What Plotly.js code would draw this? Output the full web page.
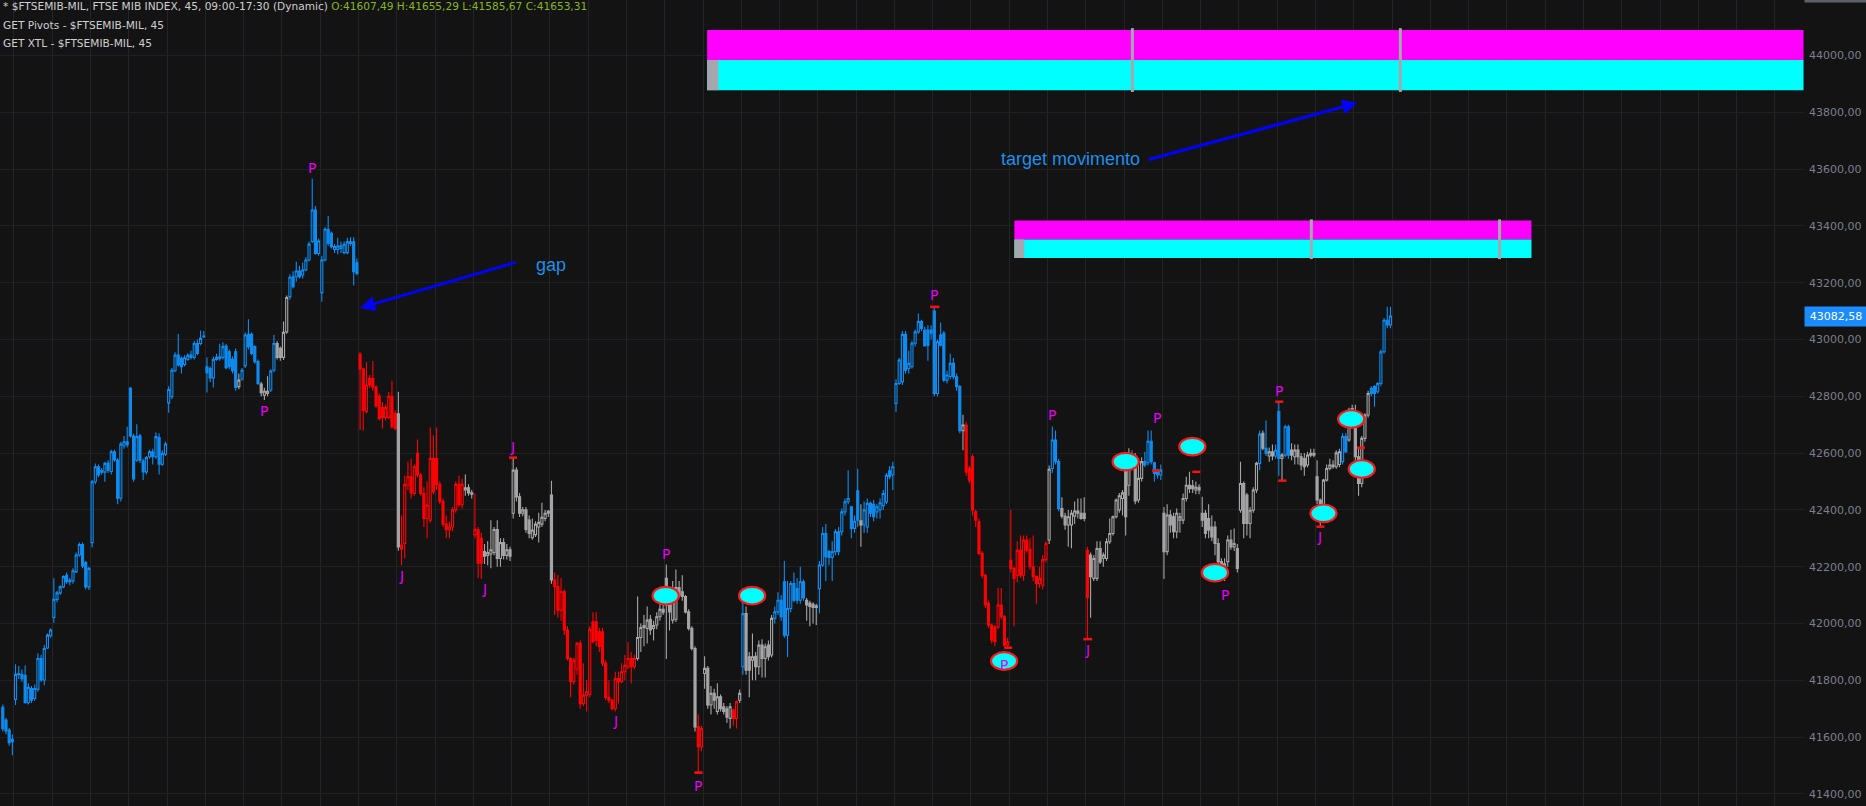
<!DOCTYPE html>
<html><head><meta charset="utf-8">
<script src="https://cdn.plot.ly/plotly-3.0.1.min.js"></script>
<style>html,body{margin:0;padding:0;background:#131313;overflow:hidden}#chart{width:1866px;height:806px}</style>
</head><body><div id="chart"></div>
<script>
// 45-minute bars, 12 per session (index 0 = first visible bar)
const openP = [
41705,41660,41625,41584,
41733,41824,41820,41818,41721,41771,41736,41768,41877,41801,41914,41957,
42021,42085,42108,42129,42170,42147,42150,42182,42241,42278,42215,42129,
42285,42499,42552,42533,42533,42564,42535,42605,42576,42441,42626,42640,
42829,42660,42575,42661,42572,42534,42587,42605,42587,42655,42561,42596,
42777,42799,42890,42945,42934,42912,42930,42937,42937,42986,42986,43010,
42904,42898,42865,42930,42932,42937,42977,42957,42930,42957,42834,42861,
42908,43018,43018,42975,42922,42843,42804,42810,42822,42892,42986,42969,
42937,43027,43151,43221,43221,43241,43227,43245,43280,43345,43456,43303,
43165,43280,43388,43374,43317,43317,43321,43306,43306,43344,43344,43270,
42949,42896,42746,42863,42863,42832,42800,42760,42726,42726,42800,42740,
42738,42276,42282,42485,42517,42458,42599,42523,42458,42370,42364,42581,
42581,42490,42430,42350,42330,42340,42400,42490,42418,42470,42478,42460,
42313,42330,42300,42253,42240,42245,42250,42331,42229,42285,42240,42260,
42388,42540,42446,42388,42400,42364,42302,42313,42340,42350,42370,42388,
42452,42153,42130,42047,42112,41977,41877,41795,41840,41930,41718,41748,
41750,42006,42006,41971,41971,41860,41740,41730,41700,41806,41795,41830,
41848,41877,41848,41877,41951,41986,41983,42015,41983,41995,42024,42050,
42159,42065,42012,42015,42127,42112,42095,42041,41983,41912,41636,41566,
41824,41842,41713,41754,41690,41742,41707,41700,41666,41695,41666,41730,
41848,42035,41883,41871,41885,41848,41924,41877,41924,41889,42018,42041,
42082,42147,41959,42053,42141,42123,42082,42147,42082,42072,42068,42057,
42123,42206,42317,42253,42233,42253,42323,42323,42393,42429,42411,42335,
42467,42362,42347,42340,42423,42420,42393,42400,42415,42428,42538,42523,
42775,42845,42851,43018,42898,42904,42987,43027,43063,43033,43033,43033,
43100,42810,43016,43022,42857,42870,42916,42869,42834,42679,42699,42546,
42587,42393,42358,42247,42170,42071,41994,41988,41988,42065,42024,41924,
42223,42194,42170,42258,42170,42294,42261,42200,42165,42141,42135,42225,
42294,42546,42646,42570,42405,42378,42347,42347,42378,42396,42388,42388,
42258,42241,42159,42159,42264,42230,42229,42288,42317,42376,42400,42440,
42570,42487,42558,42590,42435,42511,42570,42566,42642,42566,42540,42523,
42388,42253,42382,42376,42323,42364,42364,42440,42487,42485,42470,42480,
42388,42388,42370,42340,42340,42282,42218,42194,42218,42294,42270,42264,
42399,42493,42452,42352,42399,42470,42564,42670,42617,42590,42605,42590,
42746,42581,42593,42693,42611,42587,42611,42587,42581,42558,42593,42599,
42517,42435,42388,42505,42546,42552,42552,42560,42570,42658,42646,42757,
42740,42587,42493,42652,42734,42828,42834,42816,42845,42957,43068,43051];
const highP = [
41715,41668,41632,41609,
41857,41850,41838,41853,41790,41780,41785,41895,41890,41924,41965,41983,
42159,42115,42135,42170,42180,42160,42195,42250,42285,42285,42220,42200,
42505,42563,42560,42548,42570,42575,42612,42612,42582,42640,42660,42693,
42832,42668,42702,42668,42580,42590,42612,42615,42673,42670,42610,42640,
42835,42900,42955,43019,42940,42945,42952,42960,42995,43000,43032,43030,
42937,42905,42940,42950,42985,42990,42985,42965,42940,42968,42880,42900,
43025,43071,43025,42980,42930,42850,42830,42871,42895,43016,42995,42975,
43063,43155,43230,43240,43274,43260,43270,43290,43345,43567,43470,43355,
43295,43395,43435,43380,43335,43358,43345,43345,43358,43360,43360,43285,
42955,42900,42920,42875,42924,42840,42810,42780,42770,42815,42855,42750,
42816,42380,42520,42570,42580,42560,42648,42530,42480,42500,42690,42662,
42690,42500,42440,42380,42360,42410,42500,42520,42510,42525,42490,42470,
42458,42340,42320,42280,42290,42364,42340,42364,42300,42300,42280,42270,
42584,42550,42460,42410,42410,42380,42370,42360,42390,42425,42400,42400,
42503,42180,42170,42160,42120,41990,41880,41880,41935,41940,41860,41800,
41990,42040,42041,41985,41985,41870,41800,41735,41830,41830,41860,41890,
41935,41900,41890,42095,42000,42030,42060,42030,42010,42040,42070,42080,
42208,42080,42150,42190,42150,42170,42100,42050,41990,41920,41680,41640,
41885,41850,41780,41770,41790,41750,41720,41710,41720,41700,41730,41768,
42125,42060,41900,41965,41900,41940,41945,41930,41940,42030,42060,42110,
42100,42220,42150,42150,42180,42160,42200,42155,42090,42080,42075,42070,
42220,42340,42350,42260,42290,42333,42340,42405,42440,42540,42415,42380,
42545,42420,42430,42440,42430,42435,42420,42440,42470,42530,42555,42570,
42860,42935,43030,43030,42960,42995,43035,43092,43070,43045,43050,43050,
43115,43000,43060,43030,42890,42950,42935,42880,42840,42735,42710,42555,
42595,42400,42370,42255,42175,42080,42000,41995,42125,42125,42030,41950,
42400,42200,42290,42310,42310,42310,42300,42310,42170,42200,42240,42290,
42556,42694,42680,42580,42445,42390,42400,42400,42430,42440,42440,42445,
42270,42250,42240,42290,42290,42250,42300,42370,42380,42440,42460,42470,
42580,42617,42610,42600,42560,42585,42605,42680,42680,42570,42545,42560,
42410,42420,42400,42390,42405,42390,42458,42517,42534,42505,42500,42490,
42446,42400,42420,42380,42360,42300,42230,42230,42310,42330,42335,42280,
42570,42500,42460,42410,42480,42570,42680,42680,42715,42620,42630,42630,
42781,42600,42700,42700,42635,42630,42630,42600,42600,42605,42615,42615,
42575,42440,42510,42560,42580,42575,42610,42615,42670,42670,42760,42770,
42770,42619,42660,42740,42820,42835,42840,42850,42965,43075,43115,43115];
const lowP = [
41620,41610,41570,41536,
41713,41805,41795,41718,41715,41720,41728,41760,41795,41783,41910,41950,
42003,42075,42100,42125,42140,42135,42140,42178,42235,42195,42120,42118,
42268,42490,42515,42525,42499,42530,42525,42570,42420,42430,42615,42620,
42655,42499,42570,42565,42505,42525,42580,42560,42580,42525,42555,42590,
42742,42790,42885,42905,42880,42905,42925,42930,42930,42945,42980,43005,
42813,42850,42831,42925,42925,42930,42895,42895,42880,42820,42825,42855,
42900,42965,42945,42915,42840,42800,42787,42800,42815,42885,42930,42925,
42928,43020,43140,43180,43204,43215,43215,43240,43275,43340,43298,43295,
43133,43275,43330,43320,43305,43300,43305,43300,43300,43330,43190,43225,
42681,42680,42740,42830,42820,42760,42715,42687,42715,42720,42685,42680,
42256,42205,42230,42470,42440,42450,42515,42450,42340,42300,42355,42455,
42470,42420,42340,42300,42300,42325,42390,42410,42405,42450,42450,42440,
42300,42160,42158,42210,42205,42195,42240,42200,42200,42225,42225,42220,
42370,42430,42375,42378,42320,42300,42295,42305,42285,42340,42360,42375,
42140,42030,42020,42010,41960,41870,41740,41785,41820,41700,41710,41690,
41740,41930,41920,41900,41850,41730,41720,41695,41690,41718,41790,41800,
41840,41790,41840,41870,41900,41920,41930,41960,41940,41980,42010,42030,
41875,41975,42000,42005,42090,42080,42035,41975,41905,41620,41475,41550,
41770,41700,41680,41700,41680,41690,41680,41650,41630,41640,41630,41720,
41820,41820,41740,41800,41800,41820,41810,41810,41870,41880,42000,42030,
42010,41950,41882,42040,42075,42070,42070,42080,42010,41990,42000,41995,
42035,42200,42150,42205,42150,42240,42240,42310,42380,42420,42300,42320,
42340,42270,42320,42320,42375,42360,42370,42370,42400,42420,42508,42470,
42745,42840,42840,42880,42880,42898,42975,43020,43030,42975,42925,43000,
42800,42800,42975,42850,42845,42860,42860,42820,42670,42610,42520,42495,
42380,42340,42240,42160,42055,41985,41930,41920,41980,42015,41915,41914,
42180,41990,42145,42160,42150,42250,42190,42150,42070,42125,42120,42216,
42280,42530,42560,42395,42370,42330,42270,42265,42350,42370,42365,42360,
41945,42020,42150,42150,42210,42200,42220,42280,42310,42370,42390,42380,
42310,42450,42540,42420,42425,42500,42550,42556,42560,42500,42510,42505,
42157,42240,42320,42300,42300,42320,42350,42430,42460,42460,42455,42455,
42340,42300,42300,42290,42240,42150,42160,42150,42200,42260,42255,42180,
42390,42300,42310,42300,42390,42460,42540,42610,42590,42570,42575,42580,
42520,42503,42585,42580,42575,42560,42560,42540,42520,42550,42585,42585,
42420,42341,42370,42500,42540,42545,42545,42550,42560,42600,42640,42730,
42570,42450,42480,42640,42725,42800,42763,42810,42835,42950,43040,43040];
const closeP = [
41630,41622,41580,41592,
41821,41820,41806,41721,41775,41730,41771,41877,41801,41912,41959,41977,
42085,42108,42129,42165,42147,42152,42186,42241,42278,42203,42129,42194,
42499,42552,42523,42539,42564,42540,42605,42576,42441,42632,42640,42630,
42660,42509,42658,42575,42534,42584,42605,42587,42658,42561,42599,42632,
42824,42892,42945,42910,42904,42936,42944,42945,42986,42951,43004,43012,
42883,42865,42930,42937,42939,42975,42901,42904,42890,42831,42857,42892,
43016,42975,42951,42922,42845,42813,42818,42818,42889,42986,42937,42937,
43025,43148,43219,43186,43241,43221,43245,43280,43336,43456,43303,43347,
43280,43388,43339,43327,43327,43329,43330,43335,43344,43338,43239,43233,
42896,42750,42840,42840,42832,42766,42722,42726,42760,42800,42693,42687,
42270,42262,42490,42517,42460,42552,42523,42458,42370,42417,42581,42464,
42490,42430,42350,42330,42340,42400,42490,42418,42490,42478,42460,42455,
42330,42212,42212,42237,42250,42260,42331,42229,42285,42240,42260,42237,
42540,42446,42388,42400,42331,42317,42329,42350,42356,42374,42388,42395,
42153,42130,42047,42112,41977,41877,41795,41871,41930,41718,41748,41760,
41980,41936,41940,41918,41860,41740,41730,41700,41806,41795,41830,41853,
41877,41848,41877,41951,41986,41993,42012,41977,41993,42024,42050,42040,
42065,42041,42100,42127,42100,42095,42041,41983,41912,41636,41566,41630,
41842,41713,41754,41730,41742,41700,41690,41670,41707,41666,41724,41754,
42035,41836,41836,41883,41848,41924,41877,41918,41883,42018,42041,42082,
42024,41959,42053,42141,42082,42082,42147,42090,42065,42060,42057,42062,
42206,42317,42235,42233,42253,42323,42253,42393,42429,42440,42335,42360,
42364,42347,42400,42423,42388,42376,42411,42425,42458,42522,42517,42552,
42845,42928,43018,42892,42916,42987,43027,43063,43039,42977,42980,43022,
42810,42992,42980,42857,42875,42916,42869,42834,42679,42699,42534,42505,
42400,42364,42247,42170,42065,41994,41941,41936,42065,42024,41924,41936,
42194,42159,42258,42170,42294,42258,42200,42165,42141,42159,42225,42282,
42543,42646,42570,42405,42378,42347,42376,42388,42396,42388,42370,42370,
42092,42165,42229,42264,42217,42241,42288,42317,42376,42435,42450,42460,
42376,42558,42590,42432,42511,42570,42558,42642,42570,42528,42523,42540,
42253,42382,42347,42323,42388,42376,42440,42487,42475,42475,42480,42470,
42364,42317,42329,42305,42282,42218,42194,42210,42294,42270,42282,42194,
42493,42352,42352,42399,42470,42564,42667,42617,42599,42605,42590,42610,
42581,42593,42693,42593,42593,42611,42587,42558,42552,42593,42599,42593,
42435,42388,42505,42546,42558,42558,42601,42605,42658,42605,42752,42740,
42587,42493,42652,42734,42810,42810,42810,42845,42957,43068,43051,43082.58];
// trend state per bar: b = up (blue), r = down (red), g = neutral (grey)
const trendState = (
 "bbbb" + "bbbbbbbbbbbb" + "bbbbbbbbbbbb" + "bbbbbbbbbbbb" + "bbbbbbbbbbbb" + "bbbbbbbbbbbb" +
 "bbbbbbbbbbgb" + "bbbbbgggbbgg" + "ggbbbbbbbbbb" + "bbbbbbbbbbbb" + "rrrrrrrrrrrr" +
 "grrrrrrrrrrr" + "rrrrrrrrrggg" + "rrrggggggggg" + "gggggggggggg" + "grrrrrrrrrrr" +
 "rrrrrrrrrrrr" + "rrrggggggggg" + "ggggggggggrr" + "gggggggggrrg" + "bgggggggggbb" +
 "bbbbbbbbgggg" + "bbbbbbbbbbbb" + "bgbbbbbbbbbb" + "bbbbbbbbbbbb" + "bbbbbbbbbgrr" +
 "rrrrrrrrrrrr" + "rrrrrrrrrrrr" + "gbbbgggggggg" + "rggggggggggg" + "ggbgggbbbbbb" +
 "gggggggggggg" + "gggggggggggg" + "ggggggbgbggb" + "bgbbgggggggg" + "ggggggggbbgg" +
 "gggggbbbbbbb").split("");

// price axis
const yTickVals = [41400,41600,41800,42000,42200,42400,42600,42800,43000,43200,43400,43600,43800,44000];
const yTickText = ["41400,00","41600,00","41800,00","42000,00","42200,00","42400,00","42600,00","42800,00","43000,00","43200,00","43400,00","43600,00","43800,00","44000,00"];
const lastPrice = 43082.58, lastPriceText = "43082,58";
const topPriceText = "44222,25";

// GET Pivots labels (bar position, price)
const pivotText = ["P","P","J","J","J","P","J","P","P","P","P","J","P","P","P","J"];
const pivotBar  = [97.0,81.9,124.9,151.0,159.9,208.0,192.0,217.8,291.8,314.0,328.9,339.9,361.8,383.0,400.0,412.8];
const pivotPrice= [43604,42748,42167,42120,42623,42245,41658,41428,43157,41854,42734,41907,42722,42100,42819,42306];
// red pivot ticks
const tickBar0 = [158.7,216.8,290.7,313.9,338.7,360.3,372.9,398.9,399.8,411.8,424.5];
const tickBar1 = [161.2,219.4,293.6,316.4,341.5,362.8,375.4,401.4,402.4,414.3,427.0];
const tickPrice= [42584,41475,43115,41915,41945,42538,42534,42781,42503,42341,42619];
// GET XTL ellipses (bar, price)
const ellBar   = [207.8,234.9,313.9,352.0,372.9,380.0,414.0,422.7,426.0];
const ellPrice = [42098,42098,41868,42570,42623,42179,42388,42720,42544];
// target boxes
const boxStart = [220.8,317.1];
const boxEnd   = [564.5,479.2];
const boxTop   = [44090,43419];
const boxMid   = [43984,43352];
const boxBottom= [43878,43287];
const boxMark  = [224.3,320.2];
const boxDivA  = [354.1,410.2];
const boxDivB  = [438.1,469.2];

const COLORS = {b:'#0f8cf0', r:'#ff0000', g:'#a6a6a8'};
const traces = Object.keys(COLORS).map(k => {
  const x=[],o=[],h=[],l=[],c=[];
  for (let i=0;i<closeP.length;i++) if (trendState[i]===k){x.push(i);o.push(openP[i]);h.push(highP[i]);l.push(lowP[i]);c.push(closeP[i]);}
  return {type:'candlestick', x:x, open:o, high:h, low:l, close:c, whiskerwidth:0,
    increasing:{line:{color:COLORS[k], width:1.1}, fillcolor:'rgba(0,0,0,0)'},
    decreasing:{line:{color:COLORS[k], width:1.1}, fillcolor:COLORS[k]},
    hoverinfo:'skip', showlegend:false};
});

const shapes = [];
for (let b=0;b<boxStart.length;b++){
  shapes.push({type:'rect',xref:'x',yref:'y',x0:boxStart[b],x1:boxEnd[b],y0:boxMid[b],y1:boxTop[b],fillcolor:'#ff00ff',line:{width:0}});
  shapes.push({type:'rect',xref:'x',yref:'y',x0:boxStart[b],x1:boxEnd[b],y0:boxBottom[b],y1:boxMid[b],fillcolor:'#00ffff',line:{width:0}});
  shapes.push({type:'rect',xref:'x',yref:'y',x0:boxStart[b],x1:boxMark[b],y0:boxBottom[b],y1:boxMid[b],fillcolor:'#a6a6ae',line:{width:0}});
  const ext = (boxTop[b]-boxBottom[b])*0.03;
  [boxDivA[b],boxDivB[b]].forEach(d=>{
    shapes.push({type:'rect',xref:'x',yref:'y',x0:d-0.47,x1:d+0.47,y0:boxBottom[b]-ext,y1:boxTop[b]+ext,fillcolor:'#a6a6ae',line:{width:0}});
  });
}
for (let i=0;i<tickPrice.length;i++){
  shapes.push({type:'line',xref:'x',yref:'y',x0:tickBar0[i],x1:tickBar1[i],y0:tickPrice[i],y1:tickPrice[i],line:{color:'#ff1010',width:2.5}});
}
for (let i=0;i<ellBar.length;i++){
  shapes.push({type:'circle',xref:'x',yref:'y',x0:ellBar[i]-4.1,x1:ellBar[i]+4.1,y0:ellPrice[i]-31,y1:ellPrice[i]+31,fillcolor:'#00ffff',line:{color:'#ff1a1a',width:2.2}});
}

const hdrFont = {family:'DejaVu Sans', size:10.6, color:'#cfcfcf'};
const annotations = [
  {xref:'paper',yref:'paper',x:0.0005,y:1-6/806,xanchor:'left',yanchor:'middle',showarrow:false,font:hdrFont,
   text:'* $FTSEMIB-MIL, FTSE MIB INDEX, 45, 09:00-17:30 (Dynamic) <span style="color:#86b61f">O:41607,49 H:41655,29 L:41585,67 C:41653,31</span>'},
  {xref:'paper',yref:'paper',x:0.0005,y:1-25/806,xanchor:'left',yanchor:'middle',showarrow:false,font:hdrFont,text:'GET Pivots - $FTSEMIB-MIL, 45'},
  {xref:'paper',yref:'paper',x:0.0005,y:1-43/806,xanchor:'left',yanchor:'middle',showarrow:false,font:hdrFont,text:'GET XTL - $FTSEMIB-MIL, 45'},
  {xref:'paper',yref:'y',x:1,y:lastPrice,xanchor:'left',yanchor:'middle',showarrow:false,text:lastPriceText,
   bgcolor:'#1a8cff',width:58,height:15,borderpad:2,font:{family:'DejaVu Sans',size:11,color:'#ffffff'}},
  {xref:'paper',yref:'paper',x:1,y:1+7.6/806,xanchor:'left',yanchor:'middle',showarrow:false,text:topPriceText,
   bgcolor:'#5b606a',width:58,height:15,borderpad:2,font:{family:'DejaVu Sans',size:11,color:'#ffffff'}},
  // gap arrow + label
  {xref:'x',yref:'y',x:112.0,y:43111,ax:157,ay:-46,text:'',showarrow:true,arrowcolor:'#0000ff',arrowwidth:3,arrowhead:2,arrowsize:1,standoff:0,startstandoff:0},
  {xref:'x',yref:'y',x:171.9,y:43262,text:'gap',showarrow:false,font:{family:'Liberation Sans',size:18,color:'#1e8fe6'}},
  // target arrow + label
  {xref:'x',yref:'y',x:424.6,y:43833,ax:-210,ay:57,text:'',showarrow:true,arrowcolor:'#0000ff',arrowwidth:3,arrowhead:2,arrowsize:1,standoff:0,startstandoff:0},
  {xref:'x',yref:'y',x:334.7,y:43636,text:'target movimento',showarrow:false,font:{family:'Liberation Sans',size:18,color:'#1e8fe6'}}
];
for (let i=0;i<pivotText.length;i++){
  annotations.push({xref:'x',yref:'y',x:pivotBar[i],y:pivotPrice[i],text:pivotText[i],showarrow:false,
    font:{family:'DejaVu Sans',size:14,color:'#e600f0'}});
}

const layout = {
  width:1866, height:806,
  margin:{l:0,r:62,t:0,b:0,pad:0},
  paper_bgcolor:'#131313', plot_bgcolor:'#131313',
  showlegend:false, hovermode:false, dragmode:false, boxgap:0.08,
  xaxis:{range:[-0.878,564.64], tickmode:'linear', tick0:3.5, dtick:12, showgrid:true, gridcolor:'#232328', gridwidth:1,
         showticklabels:false, ticks:'', zeroline:false, showline:false, rangeslider:{visible:false}, fixedrange:true},
  yaxis:{side:'right', range:[41357.5,44195.4], tickmode:'array', tickvals:yTickVals, ticktext:yTickText,
         showgrid:true, gridcolor:'#202024', gridwidth:1, ticks:'', zeroline:false, showline:false, automargin:false,
         ticklabelstandoff:4, tickfont:{family:'DejaVu Sans', size:11, color:'#7a7f8b'}, fixedrange:true},
  shapes:shapes, annotations:annotations
};
Plotly.newPlot('chart', traces, layout, {staticPlot:true, displayModeBar:false});
</script></body></html>
